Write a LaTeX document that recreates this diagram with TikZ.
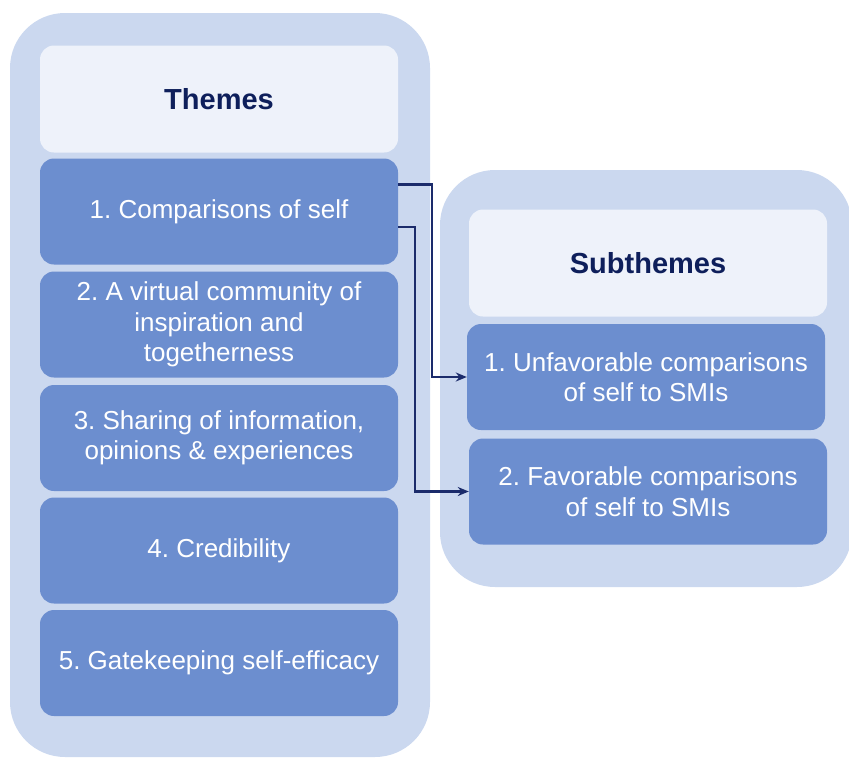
\documentclass[tikz,border=0pt]{standalone}
\usepackage{fontspec}
\setmainfont{Liberation Sans}
\usetikzlibrary{arrows.meta}
\definecolor{outerfill}{HTML}{CBD8EF}
\definecolor{headfill}{HTML}{EEF2FA}
\definecolor{itemfill}{HTML}{6C8ECF}
\definecolor{navy}{HTML}{0E1F5B}
\definecolor{arrowcol}{HTML}{1B2B6B}
\frenchspacing
\begin{document}
\begin{tikzpicture}[x=1pt,y=-1pt,
  container/.style={fill=outerfill, draw=none, rounded corners=55pt},
  headbox/.style={fill=headfill, draw=none, rounded corners=14pt,
    minimum width=358pt, minimum height=107pt, inner sep=0pt,
    font=\fontsize{29}{34}\selectfont\bfseries, text=navy},
  itembox/.style={fill=itemfill, draw=none, rounded corners=14pt,
    minimum width=358pt, minimum height=106pt, inner sep=0pt,
    align=center, text=white, font=\fontsize{26}{30.5}\selectfont},
  link/.style={draw=arrowcol, line width=2.2pt,
    -{Stealth[length=11pt,width=9pt]}}]
\useasboundingbox (0,0) rectangle (849,758);
\begin{scope}
\clip (0,0) rectangle (849,758);
% outer panels
\fill[container] (10,13) rectangle (430,757);
\fill[container] (440,170) rectangle (852,587);
\end{scope}

% themes column
\node[headbox] (th) at (219,99) {Themes};
\node[itembox] (c1) at (219,211.5) {1. Comparisons of self};
\node[itembox] (c2) at (219,324.5) {2. A virtual community of\\inspiration and\\togetherness};
\node[itembox] (c3) at (219,438) {3. Sharing of information,\\opinions \& experiences};
\node[itembox] (c4) at (219,550.5) {4. Credibility};
\node[itembox] (c5) at (219,663) {5. Gatekeeping self-efficacy};

% subthemes column
\node[headbox] (sh) at (648,263) {Subthemes};
\node[itembox] (s1) at (646,377) {1. Unfavorable comparisons\\of self to SMIs};
\node[itembox] (s2) at (648,491.5) {2. Favorable comparisons\\of self to SMIs};

% connectors
\draw[link] ([yshift=27pt]c1.east) -- ++(34,0) |- (s1.west);
\draw[link] ([yshift=-15.5pt]c1.east) -- ++(17,0) |- (s2.west);
\end{tikzpicture}
\end{document}
